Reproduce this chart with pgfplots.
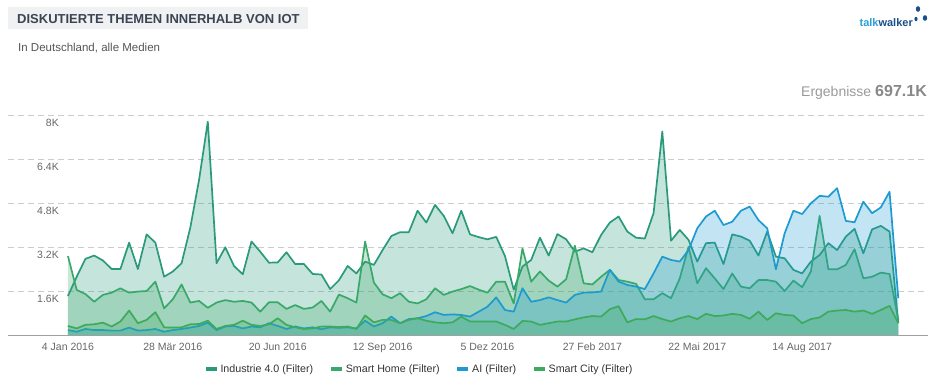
\documentclass[border=0pt]{standalone}
\usepackage{pgfplots}
\pgfplotsset{compat=1.18}
\usepackage{pgfplotstable}
\usepackage{fontspec}
\setmainfont{Liberation Sans}
\definecolor{indc}{HTML}{2A9A7A}
\definecolor{shc}{HTML}{3AA86A}
\definecolor{aic}{HTML}{1D9BD1}
\definecolor{scc}{HTML}{3DAA5C}
\definecolor{gridc}{HTML}{CCCCCC}
\definecolor{basec}{HTML}{A0A0A0}
\definecolor{tickc}{HTML}{666666}
\definecolor{legc}{HTML}{333333}
\definecolor{titlec}{HTML}{3B4453}
\definecolor{titlebg}{HTML}{F0F1F3}
\definecolor{subc}{HTML}{555555}
\definecolor{ergc}{HTML}{9A9A9A}
\definecolor{ergbc}{HTML}{888888}
\definecolor{tlight}{HTML}{2AA0D8}
\definecolor{tdark}{HTML}{1A4F8B}

\pgfplotstableread{
w ind sh ai sc
0 1.43 2.88 0.19 0.34
1 2.13 1.65 0.13 0.25
2 2.78 1.50 0.23 0.38
3 2.90 1.22 0.19 0.40
4 2.72 1.47 0.19 0.46
5 2.41 1.55 0.17 0.32
6 2.41 1.71 0.17 0.50
7 3.37 1.55 0.28 0.90
8 2.41 1.59 0.17 0.44
9 3.67 1.61 0.19 0.56
10 3.37 1.95 0.23 0.84
11 2.13 0.98 0.13 0.29
12 2.32 1.31 0.19 0.28
13 2.62 1.85 0.23 0.29
14 3.92 1.19 0.28 0.40
15 5.65 1.25 0.34 0.41
16 7.77 1.00 0.46 0.53
17 2.62 1.19 0.19 0.23
18 3.20 1.28 0.32 0.34
19 2.52 1.22 0.34 0.38
20 2.22 1.25 0.25 0.53
21 3.41 1.19 0.32 0.38
22 3.04 0.86 0.29 0.34
23 2.64 1.20 0.44 0.40
24 2.65 1.20 0.34 0.62
25 3.02 0.96 0.23 0.38
26 2.59 1.10 0.32 0.29
27 2.59 0.96 0.25 0.23
28 2.23 1.01 0.29 0.25
29 2.21 1.25 0.22 0.32
30 1.68 0.86 0.29 0.32
31 2.00 1.48 0.27 0.30
32 2.52 1.35 0.29 0.32
33 2.25 1.19 0.25 0.23
34 2.68 3.41 0.53 0.72
35 2.56 1.92 0.32 0.47
36 3.10 1.49 0.44 0.56
37 3.61 1.35 0.68 0.56
38 3.75 1.53 0.44 0.44
39 3.75 1.22 0.59 0.56
40 4.53 1.16 0.62 0.62
41 4.10 1.31 0.70 0.53
42 4.74 1.71 0.84 0.47
43 4.34 1.47 0.74 0.44
44 3.71 1.59 0.76 0.47
45 4.53 1.68 0.74 0.68
46 3.67 1.79 0.68 0.50
47 3.57 1.66 0.86 0.50
48 3.49 1.55 1.04 0.50
49 3.58 1.95 1.38 0.50
50 2.88 1.95 0.92 0.38
51 1.66 1.16 0.86 0.23
52 2.50 3.16 1.71 0.52
53 2.74 1.95 1.22 0.50
54 3.55 2.32 1.28 0.38
55 2.90 1.99 1.38 0.44
56 3.68 1.77 1.28 0.50
57 3.49 2.04 1.19 0.50
58 3.04 3.26 1.47 0.58
59 3.16 1.89 1.55 0.65
60 3.02 1.85 1.56 0.70
61 3.65 2.13 1.59 0.68
62 4.10 2.38 2.38 0.95
63 4.32 2.01 1.95 1.06
64 3.77 1.95 1.83 0.47
65 3.55 1.87 1.77 0.59
66 3.52 1.31 1.68 0.58
67 4.44 1.31 2.25 0.70
68 7.41 1.53 2.86 0.59
69 3.44 1.35 2.74 0.50
70 3.83 2.07 2.68 0.62
71 3.47 3.22 3.10 0.70
72 2.68 1.89 3.89 0.59
73 3.35 2.44 4.32 0.78
74 3.37 2.07 4.53 0.70
75 2.59 1.68 4.01 0.72
76 3.67 2.25 4.13 0.78
77 3.59 1.77 4.53 0.74
78 3.44 1.71 4.68 0.60
79 2.90 2.01 4.19 0.86
80 3.77 2.01 3.89 0.56
81 2.86 1.95 2.40 0.80
82 2.80 1.61 3.71 0.74
83 2.38 1.99 4.53 0.72
84 2.25 1.75 4.41 0.44
85 2.68 2.32 4.80 0.59
86 2.92 4.34 5.07 0.65
87 3.35 2.40 5.04 0.86
88 3.10 2.40 5.35 0.90
89 3.59 2.56 4.16 0.92
90 3.87 3.13 4.11 0.86
91 2.98 2.07 4.86 0.90
92 3.85 2.13 4.44 0.78
93 3.98 2.28 4.65 0.92
94 3.77 2.23 5.22 1.07
95 0.44 0.56 1.35 0.44
}\data

\begin{document}
\begin{tikzpicture}
% header
\fill[titlebg] (8pt,356pt) rectangle (308pt,378pt);
\node[anchor=base west, inner sep=0pt, text=titlec, font=\fontsize{13}{15}\selectfont\bfseries] at (17pt,361pt) {DISKUTIERTE THEMEN INNERHALB VON IOT};
\node[anchor=base west, inner sep=0pt, text=subc, font=\fontsize{11.5}{13}\selectfont] at (18pt,333.3pt) {In Deutschland, alle Medien};
\node[anchor=base east, inner sep=0pt, font=\fontsize{11}{13}\selectfont\bfseries] at (913pt,358.3pt) {\textcolor{tlight}{talk}\textcolor{tdark}{walker}};
\fill[tdark] (918pt,376pt) ellipse (2.2pt and 2.8pt);
\fill[tdark] (925pt,367pt) ellipse (2.2pt and 2.8pt);
\fill[tdark] (916pt,366pt) ellipse (1.6pt and 2.2pt);
\node[anchor=base east, inner sep=0pt] at (927pt,288.3pt) {{\fontsize{14}{16}\selectfont\textcolor{ergc}{Ergebnisse}}\hspace{4pt}{\fontsize{16}{18}\selectfont\bfseries\textcolor{ergbc}{697.1K}}};

\begin{axis}[
  at={(8pt,49.7pt)}, anchor=south west, scale only axis,
  width=920pt, height=220pt,
  xmin=-6.86, xmax=98.4, ymin=0, ymax=8,
  axis line style={draw=none},
  tick style={draw=none},
  major tick length=0pt,
  xtick={0,12,24,36,48,60,72,84},
  xticklabels={4 Jan 2016, 28 Mär 2016, 20 Jun 2016, 12 Sep 2016, 5 Dez 2016, 27 Feb 2017, 22 Mai 2017, 14 Aug 2017},
  ytick={1.6,3.2,4.8,6.4,8},
  yticklabels={1.6K,3.2K,4.8K,6.4K,8K},
  ymajorgrids,
  major grid style={draw=gridc, line width=0.8pt, dash pattern=on 6pt off 4pt},
  xticklabel style={font=\fontsize{10.5}{12}\selectfont, text=tickc, anchor=north, inner sep=0pt, yshift=-7.4pt},
  yticklabel style={font=\fontsize{10.5}{12}\selectfont, text=tickc, anchor=east, inner sep=0pt, xshift=51pt, yshift=-8pt},
  legend columns=4,
  legend style={at={(axis description cs:0.447,-0.1532)}, anchor=center, draw=none, fill=none,
    font=\fontsize{10.7}{12}\selectfont, text=legc, inner sep=0pt,
    /tikz/every even column/.append style={column sep=14pt}},
  legend cell align=left,
  legend image code/.code={\draw[#1, line width=3.5pt, line cap=butt] (0pt,0pt) -- (11pt,0pt);},
]
\addplot[draw=none, fill=indc, fill opacity=0.27, forget plot] table[x=w,y=ind]{\data} \closedcycle;
\addplot[indc, line width=1.7pt, line join=round] table[x=w,y=ind]{\data};
\addlegendentry{Industrie 4.0 (Filter)}
\addplot[draw=none, fill=shc, fill opacity=0.27, forget plot] table[x=w,y=sh]{\data} \closedcycle;
\addplot[shc, line width=1.7pt, line join=round] table[x=w,y=sh]{\data};
\addlegendentry{Smart Home (Filter)}
\addplot[draw=none, fill=aic, fill opacity=0.27, forget plot] table[x=w,y=ai]{\data} \closedcycle;
\addplot[aic, line width=1.7pt, line join=round] table[x=w,y=ai]{\data};
\addlegendentry{AI (Filter)}
\addplot[draw=none, fill=scc, fill opacity=0.27, forget plot] table[x=w,y=sc]{\data} \closedcycle;
\addplot[scc, line width=1.7pt, line join=round] table[x=w,y=sc]{\data};
\addlegendentry{Smart City (Filter)}
\draw[basec, line width=1.5pt] (rel axis cs:0,0) -- (rel axis cs:1,0);
\end{axis}
\pgfresetboundingbox
\useasboundingbox (0,0) rectangle (936pt,385pt);
\end{tikzpicture}
\end{document}
